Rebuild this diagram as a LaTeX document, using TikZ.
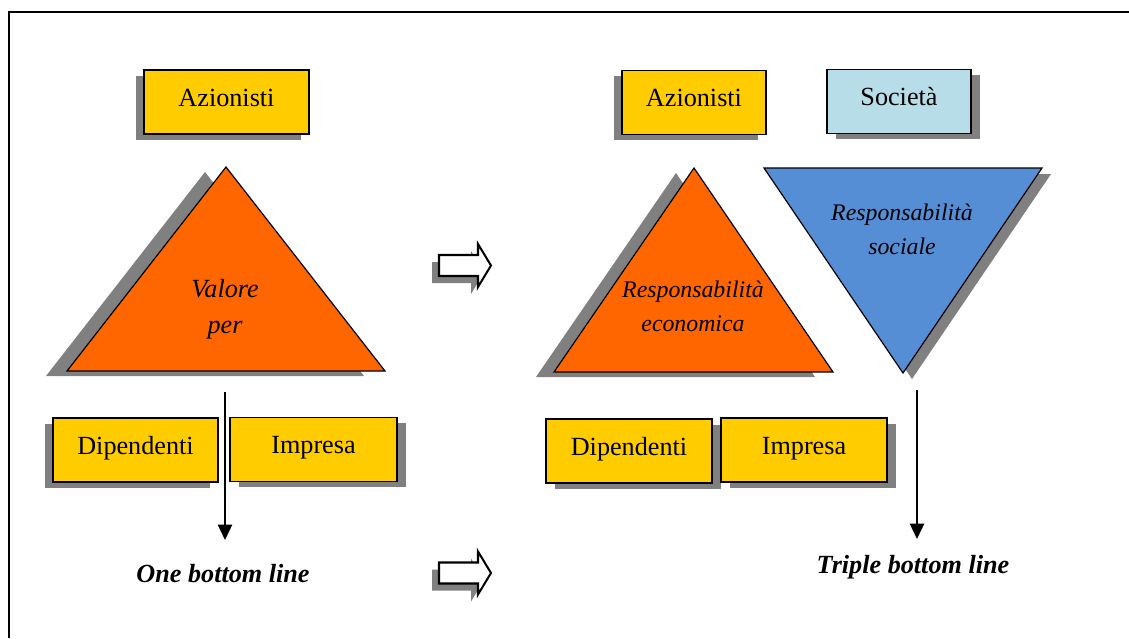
\documentclass[tikz,border=0pt]{standalone}
\usepackage{fontspec}
\setmainfont{Liberation Serif}
\usetikzlibrary{shadows,arrows.meta}
\definecolor{boxyellow}{HTML}{FFCC00}
\definecolor{triorange}{HTML}{FF6600}
\definecolor{boxblue}{HTML}{B7DDE8}
\definecolor{triblue}{HTML}{558ED5}
\definecolor{shadowgray}{HTML}{808080}
\begin{document}
\begin{tikzpicture}[x=0.42pt,y=-0.42pt,
	stakebox/.style={draw=black,line width=0.8pt,fill=boxyellow,inner sep=0pt,
		minimum height=26.9pt,text height=7.5pt,text depth=4pt,
		font=\fontsize{11}{13}\selectfont},
	shadowleft/.style={drop shadow={shadow xshift=-3.2pt,shadow yshift=-2.5pt,fill=shadowgray,opacity=1}},
	shadowright/.style={drop shadow={shadow xshift=3.6pt,shadow yshift=-2.4pt,fill=shadowgray,opacity=1}},
	tritext/.style={align=center,font=\itshape\fontsize{10}{14.3}\selectfont},
	bottomtext/.style={anchor=base,font=\bfseries\itshape\fontsize{11}{13}\selectfont},
	flowarrow/.style={line width=0.85pt,-{Triangle[width=6pt,length=6.5pt]}},
	blockarrow/.style={draw=black,line width=0.85pt,fill=white,line join=miter}]
	\useasboundingbox (0,0) rectangle (1129,638);

	% frame
	\draw[line width=1pt] (9,638) -- (9,12) -- (1129,12);

	% left: one bottom line
	\node[stakebox,shadowleft,minimum width=69.3pt] (azionistiL) at (226.5,102) {Azionisti};

	\fill[shadowgray] (205,172) -- (364,376) -- (46,376) -- cycle;
	\draw[fill=triorange,line width=0.5pt] (226,167) -- (385,371) -- (67,371) -- cycle;
	\node[tritext,font=\itshape\fontsize{11}{15}\selectfont] (valoreL) at (225,309) {Valore\\per};

	\node[stakebox,shadowleft,minimum width=69.3pt] (dipendentiL) at (135.5,450) {Dipendenti};
	\node[stakebox,shadowright,minimum width=70.1pt] (impresaL) at (313.5,449.5) {Impresa};

	\coordinate (oneTop) at (225,392);
	\coordinate (oneTip) at (225,540);
	\draw[flowarrow] (oneTop) -- (oneTip);
	\node[bottomtext] (onebl) at (223,582) {One bottom line};

	% middle: block arrows
	\foreach \dy in {0,307.5}{
		\fill[shadowgray,shift={(-7,\dy+7)}] (439,255) -- (478,255) -- (478,244) -- (491,265.5) -- (478,287) -- (478,276) -- (439,276) -- cycle;
		\draw[blockarrow,shift={(0,\dy)}] (439,255) -- (478,255) -- (478,244) -- (491,265.5) -- (478,287) -- (478,276) -- (439,276) -- cycle;
	}

	% right: triple bottom line
	\node[stakebox,shadowleft,minimum width=60.5pt] (azionistiR) at (694,102.5) {Azionisti};
	\node[stakebox,shadowright,fill=boxblue,minimum width=60.5pt] (societaR) at (899,101.5) {Società};

	\fill[shadowgray] (676,173) -- (815,377) -- (536,377) -- cycle;
	\draw[fill=triorange,line width=0.5pt] (694,168) -- (833,372) -- (554,372) -- cycle;
	\node[tritext] (economicaR) at (693,306) {Responsabilità\\economica};

	\fill[shadowgray] (773,174) -- (1051,174) -- (912,379) -- cycle;
	\draw[fill=triblue,line width=0.5pt] (764,168) -- (1042,168) -- (903,373) -- cycle;
	\node[tritext] (socialeR) at (902,229) {Responsabilità\\sociale};

	\node[stakebox,shadowright,minimum width=69.7pt] (dipendentiR) at (629,451) {Dipendenti};
	\node[stakebox,shadowright,minimum width=69.7pt] (impresaR) at (804,450) {Impresa};

	\coordinate (tripleTop) at (917,390);
	\coordinate (tripleTip) at (917,539);
	\draw[flowarrow] (tripleTop) -- (tripleTip);
	\node[bottomtext] (triplebl) at (913,573) {Triple bottom line};
\end{tikzpicture}
\end{document}
